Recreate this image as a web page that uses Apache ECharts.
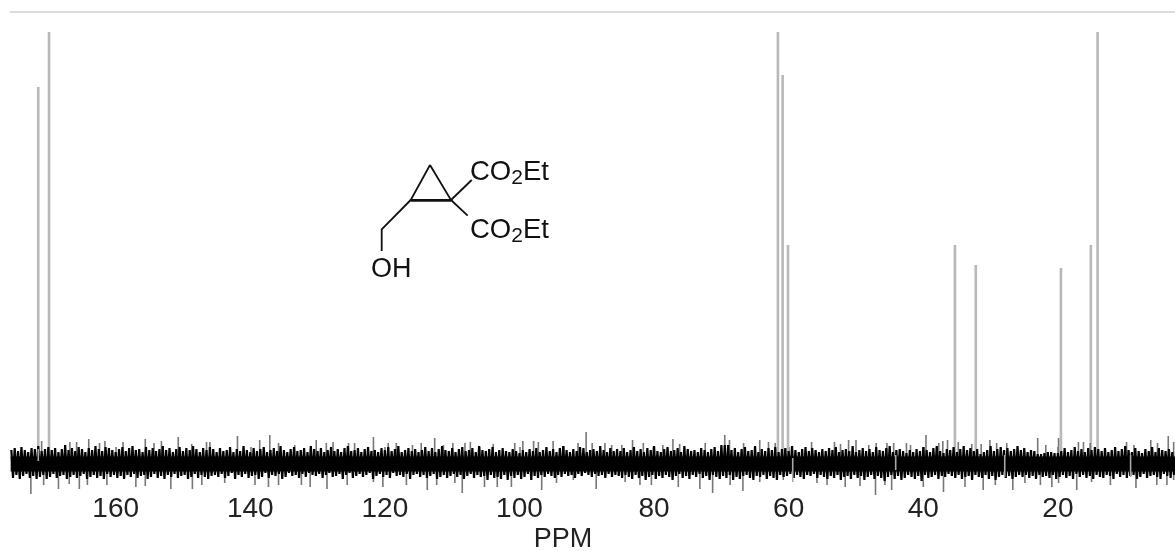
<!DOCTYPE html>
<html><head><meta charset="utf-8">
<style>html,body{margin:0;padding:0;background:#fff}#c{width:1175px;height:551px;filter:blur(0.6px)}</style>
<script src="https://cdn.jsdelivr.net/npm/echarts@6/dist/echarts.min.js"></script>
</head><body><div id="c"></div>
<script>
const tickPpm=[160,140,120,100,80,60,40,20];
const peakPpm=[171.5,169.9,61.6,60.9,60.1,35.3,32.2,19.55,15.1,14.1];
const peakHeight=[376,431,431,388,218,218,198,195,218,431];
const spikeUp=[[171,22],[166.8,21],[165.8,21],[164,24],[162.4,20],[161.6,22],[158.9,21],[155.6,24],[154.3,20],[153.2,22],[150.7,26],[148.7,19],[146.5,21],
[146,21],[141.9,27],[138.6,23],[137.1,28],[135.8,20],[133.4,18],[130.2,23],[128.7,20],[127.7,21],[125.4,20],[124.5,20],[121.7,26],[119.5,20],[118.3,20],
[115.9,18],[114.6,20],[112.6,25],[111.3,18],[109.9,20],[108.1,20],[107.3,21],[105.9,16],[103.9,19],[100.7,20],[99.5,22],[97.9,22],[97.2,21],[95,22],[93.4,17],[91.3,20],[90.1,31],[89.2,20],[87.3,20],
[86.3,18],[84.8,18],[83.2,23],[81.6,20],[80.1,16],[78.7,18],[77.2,24],[76.2,19],[72.4,20],[69.5,28],[68.8,23],[66.7,20],[64.3,23],[63,21],[62,20],
[56.6,21],[53.2,21],[52.3,19],[51.1,23],[50,23],[48.1,18],[47,20],[45.4,20],[44.4,20],[42.5,20],[41.9,18],[39.6,28],[37.7,20],[37.1,22],[36.4,23],[34.8,21],[32.8,19],[31.4,19],[30.1,23],[29.1,20],[27.6,20],
[23,25],[21.8,18],[19.9,25],[16.95,21],[16.2,21],[15.2,20],[9.8,21],[8.7,18],[6.2,23],[5.2,20],[3.6,27],[2.8,21]];
const spikeDown=[[172.6,-31],[170.7,-22],[168.5,-26],[166.9,-21],[165.4,-26],[164.2,-22],[161.3,-22],[157,-24],[155.6,-23],[151.8,-26],[148.6,-26],[147.2,-22],
[143.8,-20],[139.3,-22],[137.3,-24],[135.8,-22],[132.4,-22],[131.1,-24],[128.6,-26],[125.6,-22],[121.7,-19],[120.3,-24],[116.8,-22],
[113.7,-27],[112.3,-22],[109.6,-20],[108.5,-30],[105.2,-24],[103.3,-24],[101.2,-24],[96.7,-27],[94.5,-20],[92,-17],[88.6,-26],
[84.3,-19],[82.1,-22],[80.4,-22],[76.4,-24],[73.2,-26],[71.3,-30],[68.7,-22],[66.8,-28],[64.3,-19],[60.8,-17],
[55.8,-20],[54.3,-22],[51.6,-24],[49.4,-23],[47.1,-32],[45.7,-22],[44.7,-27],[40,-24],[37,-29],[33.8,-24],[31.1,-27],[29.3,-22],
[26.7,-27],[24.9,-20],[22.6,-22],[20.9,-24],[19.9,-20],[17.2,-27],[15,-19],[12.2,-22],[8.4,-25],[5.3,-22],[3.8,-22],[2.8,-17]];
const dropouts=[[171.5,14,2],[59.4,5,-19],[44.1,8,-7],[27.9,8,-14],[9.2,8,-14]];
const coreSpan=[[175.6,-1],[2.6,-1]];
const noisePpmStart=175.5, noisePpmStep=0.5;
const noiseTop=[
13,15,12,16,13,11,15,14,17,12,14,16,13,15,11,14,18,13,15,12,16,14,11,15,13,17,14,12,16,15,13,11,14,16,12,15,17,13,14,11,16,13,15,12,14,17,13,15,11,14,16,12,15,13,17,14,11,15,13,16,
14,11,15,12,13,16,11,14,12,17,13,11,15,12,14,16,11,13,15,12,17,13,11,14,16,12,13,15,11,17,14,12,15,11,13,16,12,14,11,15,17,12,13,15,11,14,16,12,13,11,15,13,16,12,14,17,11,13,15,12,
14,11,13,16,12,15,11,14,17,13,12,15,11,14,16,12,13,15,11,17,13,12,14,16,11,13,15,12,11,14,12,10,13,11,14,12,15,11,13,16,12,14,11,15,17,13,11,14,12,16,15,11,13,14,12,17,13,11,15,12,
14,12,15,11,13,16,12,14,11,15,13,17,12,11,14,16,12,13,15,11,17,14,12,13,11,15,13,11,14,16,12,18,18,18,13,15,11,14,16,12,13,17,11,14,12,15,13,16,11,14,15,12,17,13,11,14,16,12,15,13,
11,14,12,15,13,16,11,13,14,12,17,11,13,15,12,14,11,16,13,12,15,17,11,13,14,12,10,13,11,14,12,16,13,11,15,17,12,10,14,13,16,11,14,17,13,15,12,14,9,11,13,17,12,14,16,13,15,12,14,17,
13,15,11,13,12,9,9,10,11,11,10,10,12,15,11,13,16,12,14,11,15,13,16,14,12,15,11,13,16,12,14,17,13,11,15,12,10,14,12,16,11,15,13,12,14,11];
const noiseBottom=[
-15,-12,-16,-13,-11,-15,-13,-16,-14,-12,-16,-14,-11,-15,-13,-12,-16,-14,-12,-15,-13,-11,-16,-14,-12,-15,-13,-16,-11,-14,-12,-15,-13,-16,-12,-14,-11,-15,-13,-12,-16,-14,-11,-15,-13,-16,-12,-14,-11,-15,-13,-12,-16,-14,-11,-15,-12,-14,-16,-13,
-12,-14,-11,-15,-13,-10,-16,-12,-14,-11,-15,-13,-12,-16,-14,-10,-15,-12,-13,-11,-16,-14,-10,-13,-12,-15,-11,-14,-10,-12,-13,-11,-15,-12,-10,-14,-13,-11,-16,-12,-10,-15,-13,-11,-14,-12,-10,-16,-13,-11,-14,-12,-15,-10,-13,-12,-14,-11,-16,-12,
-11,-14,-12,-15,-13,-11,-16,-14,-12,-15,-13,-11,-14,-12,-16,-13,-11,-15,-12,-14,-13,-17,-12,-15,-14,-16,-12,-17,-13,-15,-12,-16,-14,-11,-17,-13,-15,-12,-14,-11,-13,-15,-12,-14,-11,-13,-12,-15,-11,-13,-10,-12,-14,-11,-13,-12,-15,-11,-14,-12,
-13,-15,-12,-14,-16,-12,-15,-13,-17,-14,-12,-16,-13,-15,-12,-14,-17,-13,-11,-15,-13,-16,-12,-14,-11,-15,-13,-17,-12,-14,-16,-13,-15,-12,-17,-14,-16,-13,-12,-15,-17,-13,-14,-12,-16,-13,-15,-17,-12,-14,-13,-11,-15,-12,-14,-16,-12,-13,-11,-15,
-12,-14,-16,-13,-15,-12,-17,-14,-13,-16,-12,-15,-13,-17,-14,-12,-16,-13,-15,-18,-14,-12,-16,-13,-17,-15,-12,-14,-16,-13,-18,-12,-15,-14,-12,-16,-13,-14,-11,-13,-15,-12,-16,-14,-13,-17,-12,-14,-15,-12,-16,-13,-17,-14,-12,-15,-13,-16,-14,-12,
-14,-12,-15,-13,-16,-12,-14,-13,-15,-12,-16,-14,-12,-15,-13,-16,-11,-14,-12,-15,-13,-16,-12,-14,-15,-12,-13,-16,-11,-14,-12,-15,-13,-12,-16,-14,-11,-15,-13,-12,-14,-16,-11,-13,-15,-12];

const moleculeBonds=[
 [[430,165],[410.7,200],[451,200],[430,165]],
 [[410.7,200],[381.7,229.3],[381.7,251]],
 [[451,200],[471.7,180]],
 [[451,200],[467.7,215.7]]
];

const noiseZigzag=[];
noiseTop.forEach((t,i)=>{
  const p=noisePpmStart-i*noisePpmStep;
  noiseZigzag.push([p,t]);
  noiseZigzag.push([p-noisePpmStep/2,noiseBottom[i]]);
});
const peaks=peakPpm.map((p,i)=>[p,peakHeight[i],0]);
const fringe=spikeUp.map(s=>[s[0],s[1],0]).concat(spikeDown.map(s=>[s[0],0,s[1]]));

function segment(width,color){
  return function(params,api){
    const a=api.coord([api.value(0),api.value(1)]);
    const b=api.coord([api.value(0),api.value(2)]);
    return {type:'line',shape:{x1:a[0],y1:a[1],x2:b[0],y2:b[1]},style:{stroke:color,lineWidth:width}};
  };
}
const segSeries=(data,width,color,z)=>({type:'custom',data,z,silent:true,clip:false,
  encode:{x:0,y:[1,2]},renderItem:segment(width,color)});
const bandSeries=(data,width,color,z)=>({type:'line',data,z,symbol:'none',silent:true,
  lineStyle:{color,width,join:'miter',miterLimit:3,cap:'butt'}});

const molStyle={stroke:'#111',lineWidth:1.8,fill:'none'};
const rich={a:{fontFamily:'Liberation Sans',fontSize:27.5,color:'#111'},
            s:{fontFamily:'Liberation Sans',fontSize:21,color:'#111',padding:[13,0,0,0]}};
const chart=echarts.init(document.getElementById('c'),null,{renderer:'canvas'});
chart.setOption({
  animation:false,
  backgroundColor:'#fff',
  title:{text:'PPM',left:563,top:526,textAlign:'center',padding:0,
    textStyle:{fontFamily:'Liberation Sans',fontSize:27,fontWeight:'normal',color:'#222'}},
  grid:{left:10,right:0,top:12,bottom:56},
  xAxis:[{type:'value',inverse:true,min:2.6,max:175.7,position:'bottom',
    splitLine:{show:false},axisLine:{show:false},
    axisTick:{show:true,inside:true,length:16,customValues:tickPpm,lineStyle:{color:'#888',width:1.8}},
    axisLabel:{customValues:tickPpm,fontFamily:'Liberation Sans',fontSize:28,color:'#222',margin:0,showMinLabel:true,showMaxLabel:true,hideOverlap:false}},
   {type:'value',inverse:true,min:2.6,max:175.7,position:'top',
    splitLine:{show:false},axisTick:{show:false},axisLabel:{show:false},
    axisLine:{show:true,lineStyle:{color:'#cfcfcf',width:1.5}}}],
  yAxis:{type:'value',min:-32,max:451,show:false,splitLine:{show:false}},
  series:[
    segSeries(peaks,2.6,'#b8b8b8',1),
    segSeries(fringe,1.6,'#777',2),
    bandSeries(noiseZigzag,2.2,'#000',4),
    bandSeries(coreSpan,15,'#000',4),
    segSeries(dropouts,1.6,'#a8a8a8',5)
  ],
  graphic:[
    ...moleculeBonds.map(pts=>({type:'polyline',silent:true,shape:{points:pts},style:molStyle})),
    {type:'line',silent:true,shape:{x1:410.7,y1:200.5,x2:451,y2:200.5},style:{stroke:'#111',lineWidth:2.6}},
    {type:'text',silent:true,x:470,y:155,style:{text:'{a|CO}{s|2}{a|Et}',rich,fill:'#111'}},
    {type:'text',silent:true,x:470,y:213,style:{text:'{a|CO}{s|2}{a|Et}',rich,fill:'#111'}},
    {type:'text',silent:true,x:371,y:256,style:{text:'OH',font:'27px "Liberation Sans"',fill:'#111'}}
  ]
});
</script></body></html>
